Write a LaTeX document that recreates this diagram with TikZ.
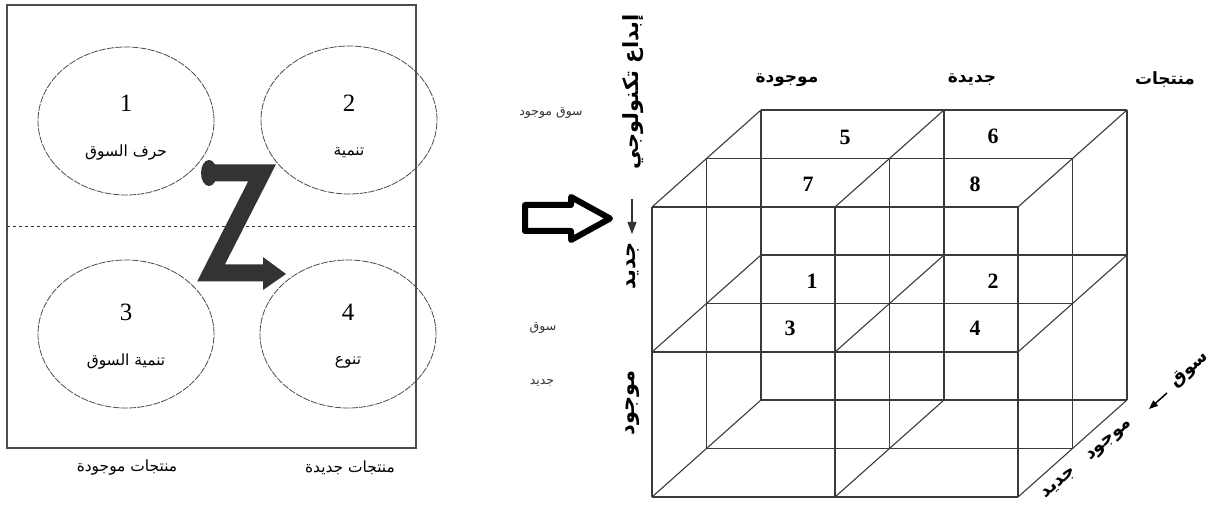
\documentclass[tikz,border=0pt]{standalone}
\usepackage{fontspec}
\setmainfont{Liberation Serif}
\newfontfamily\ar[Script=Arabic]{DejaVu Sans}
\TeXXeTstate=1
\usetikzlibrary{arrows.meta,shapes.geometric}
\definecolor{zcol}{HTML}{333333}
\definecolor{lcol}{HTML}{3A3A3A}
\tikzset{
  ell/.style={draw=black!70, line width=0.8bp, dash pattern=on 7bp off 1.2bp, ellipse, minimum width=176bp, minimum height=148bp},
  numtxt/.style={font=\fontsize{25}{27}\selectfont, inner sep=0pt},
  bnum/.style={font=\fontsize{22}{24}\selectfont\bfseries, inner sep=0pt},
  artxt/.style={font=\ar\fontsize{15.5}{17}\selectfont, inner sep=0pt},
  arbold/.style={font=\ar\bfseries\fontsize{17}{19}\selectfont, inner sep=0pt},
  arvert/.style={font=\ar\bfseries\fontsize{21}{23}\selectfont, inner sep=0pt, rotate=90},
  ardiag/.style={font=\ar\bfseries\fontsize{18}{20}\selectfont, inner sep=0pt, rotate=41},
  arsmall/.style={font=\ar\fontsize{12.5}{14}\selectfont, inner sep=0pt, text=black!80},
  grid/.style={draw=lcol, line width=1.1bp}
}
\begin{document}
\begin{tikzpicture}[x=1bp,y=-1bp]
\useasboundingbox (0,0) rectangle (1212,510);
% left panel
\draw[black!70, line width=1.2bp] (7,5) rectangle (416,448);
\draw[black!80, line width=0.8bp, dashed] (7,226) -- (416,226);
\node[ell] (e1) at (126,121) {};
\node[ell] (e2) at (349,120) {};
\node[ell] (e3) at (126,334) {};
\node[ell] (e4) at (348,334) {};
\node[numtxt] (n1) at (126,103) {1};
\node[numtxt] (n2) at (349,103) {2};
\node[numtxt] (n3) at (126,312) {3};
\node[numtxt] (n4) at (348,312) {4};
\node[artxt] (a1) at (126,153) {\beginR حرف السوق\endR};
\node[artxt] (a2) at (349,153) {\beginR تنمية\endR};
\node[artxt] (a3) at (126,362) {\beginR تنمية السوق\endR};
\node[artxt] (a4) at (348,362) {\beginR تنوع\endR};
\node[artxt] (b1) at (127,468) {\beginR منتجات موجودة\endR};
\node[artxt] (b2) at (350,468) {\beginR منتجات جديدة\endR};
% Z arrow
\coordinate (z0) at (209,173);
\coordinate (z1) at (262,173);
\coordinate (z2) at (211,273);
\coordinate (z3) at (264,273);
\draw[zcol, line width=17bp, line join=miter] (z0) -- (z1) -- (z2) -- (z3);
\fill[zcol] (z0) ellipse [x radius=8bp, y radius=13bp];
\fill[zcol] (263,257) -- (286,274) -- (263,290) -- cycle;
% middle texts
\node[arsmall] (m1) at (551,113) {\beginR سوق موجود\endR};
\node[arsmall] (m2) at (543,328) {\beginR سوق\endR};
\node[arsmall] (m3) at (542,383) {\beginR جديد\endR};
% hollow arrow
\draw[black, line width=6bp, line join=round] (525,205) -- (571,205) -- (571,197) -- (610,218.5) -- (571,240) -- (571,231) -- (525,231) -- cycle;
\coordinate (sa0) at (632,199);
\coordinate (sa1) at (632,234);
\draw[black!80, line width=1.2bp, -{Triangle[length=12bp,width=9bp]}] (sa0) -- (sa1);
% cube lattice
\foreach \j in {0,1,2}{\foreach \k in {0,1,2}{
  \draw[grid] ({652+\k*54.5},{207+\j*145-\k*48.5}) -- ({652+366+\k*54.5},{207+\j*145-\k*48.5});
}}
\foreach \i in {0,1,2}{\foreach \k in {0,1,2}{
  \draw[grid] ({652+\i*183+\k*54.5},{207-\k*48.5}) -- ({652+\i*183+\k*54.5},{207+290-\k*48.5});
}}
\foreach \i in {0,1,2}{\foreach \j in {0,1,2}{
  \draw[grid] ({652+\i*183},{207+\j*145}) -- ({652+\i*183+109},{207+\j*145-97});
}}
\node[bnum] (c5) at (845,137) {5};
\node[bnum] (c6) at (993,136) {6};
\node[bnum] (c7) at (808,184) {7};
\node[bnum] (c8) at (975,184) {8};
\node[bnum] (c1) at (812,281) {1};
\node[bnum] (c2) at (993,281) {2};
\node[bnum] (c3) at (790,328) {3};
\node[bnum] (c4) at (975,328) {4};
% cube labels
\node[arbold] (l1) at (787,80) {\beginR موجودة\endR};
\node[arbold] (l2) at (972,80) {\beginR جديدة\endR};
\node[arbold] (l3) at (1165,80) {\beginR منتجات\endR};
\node[arvert] (v1) at (633,92) {\beginR إبداع تكنولوجي\endR};
\node[arvert] (v2) at (633,266) {\beginR جديد\endR};
\node[arvert] (v3) at (633,403) {\beginR موجود\endR};
\node[ardiag] (d1) at (1088,460) {\beginR موجود\quad جديد\endR};
\node[ardiag] (d3) at (1190,370) {\beginR سوق\endR};
\coordinate (da0) at (1167,393);
\coordinate (da1) at (1149,409);
\draw[black, line width=1.5bp, -{Triangle[length=9bp,width=7bp]}] (da0) -- (da1);
\end{tikzpicture}
\end{document}
